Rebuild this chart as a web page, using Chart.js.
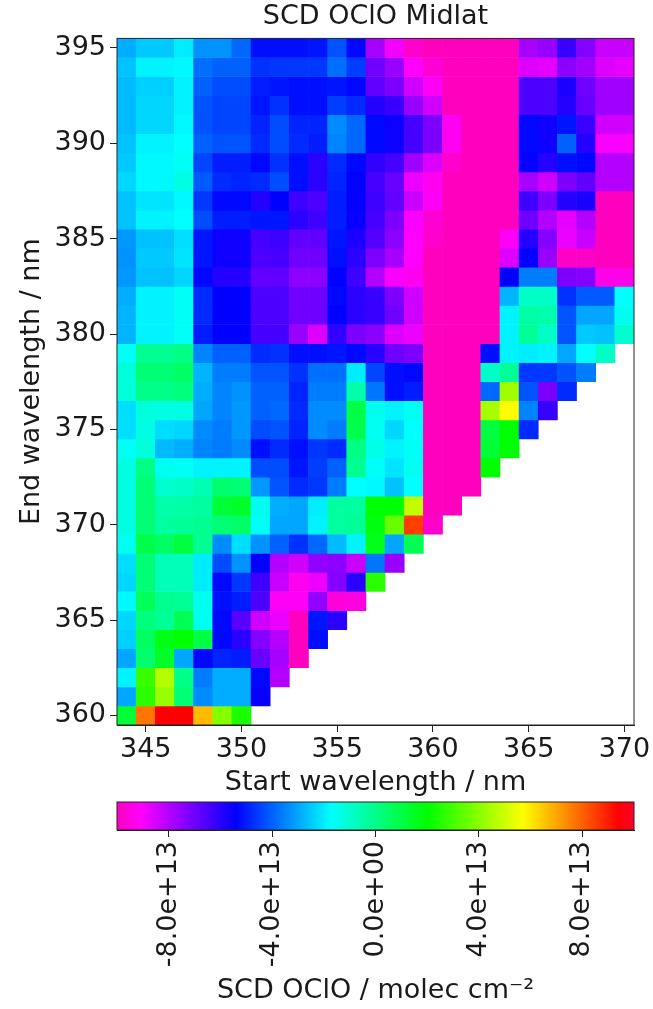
<!DOCTYPE html>
<html>
<head>
<meta charset="utf-8">
<title>SCD OClO Midlat</title>
<script src="https://cdn.jsdelivr.net/npm/chart.js@4/dist/chart.umd.min.js"></script>
<style>
    html, body { margin: 0; padding: 0; background: #fff; }
    canvas { position: absolute; left: 0; }
    #heatmap { top: 0; }
    #colorbar { top: 790px; }
</style>
</head>
<body>
<canvas id="heatmap" width="653" height="810"></canvas>
<canvas id="colorbar" width="653" height="219"></canvas>
<script>
// start wavelength of each column, end wavelength of each row (top row first)
const startWavelengths = [344, 345, 346, 347, 348, 349, 350, 351, 352, 353, 354, 355, 356, 357, 358, 359, 360, 361, 362, 363, 364, 365, 366, 367, 368, 369, 370];
const endWavelengths = [395, 394, 393, 392, 391, 390, 389, 388, 387, 386, 385, 384, 383, 382, 381, 380, 379, 378, 377, 376, 375, 374, 373, 372, 371, 370, 369, 368, 367, 366, 365, 364, 363, 362, 361, 360];
const startTicks = [345, 350, 355, 360, 365, 370];
const endTicks = [360, 365, 370, 375, 380, 385, 390, 395];

// SCD in units of 1e13. Rows get shorter where start > end window.
const scdRows = [
    [-2.9,-2.5,-2.5,-2.0,-3.3,-3.3,-3.9,-5.2,-5.2,-5.2,-5.1,-4.2,-5.3,-7.8,-8.9,-9.8,-10,-10,-10,-10,-10,-7.8,-7.6,-6.2,-7.3,-8.3,-8.3],
    [-2.6,-1.9,-1.9,-1.8,-3.8,-4.0,-4.0,-4.7,-4.6,-4.6,-4.6,-3.8,-4.5,-7.0,-7.6,-9.1,-9.7,-10,-10,-10,-10,-8.6,-8.7,-7.4,-7.7,-8.6,-8.7],
    [-2.7,-2.4,-2.4,-1.9,-4.0,-4.3,-4.3,-5.0,-5.1,-5.2,-5.2,-5.1,-5.3,-6.8,-7.2,-8.4,-9.2,-10,-10,-10,-10,-6.5,-6.5,-5.8,-7.0,-7.7,-7.7],
    [-2.7,-2.3,-2.3,-1.9,-4.2,-4.4,-4.4,-5.1,-4.7,-5.2,-5.2,-4.5,-4.8,-5.9,-6.2,-7.6,-8.4,-10,-10,-10,-10,-6.5,-6.5,-5.9,-6.9,-7.7,-7.7],
    [-2.7,-2.3,-2.3,-1.8,-4.2,-4.4,-4.4,-4.9,-4.3,-4.9,-4.9,-3.4,-3.9,-5.3,-5.6,-6.4,-7.2,-9.3,-10,-10,-10,-5.3,-5.6,-5.1,-6.2,-8.4,-8.4],
    [-2.6,-1.9,-1.9,-1.7,-4.0,-4.2,-4.2,-4.8,-4.3,-4.8,-5.0,-3.5,-3.9,-5.3,-5.6,-6.4,-7.2,-9.3,-10,-10,-10,-5.3,-5.6,-4.0,-5.9,-9.0,-9.0],
    [-2.5,-1.8,-1.8,-1.6,-4.4,-5.0,-5.0,-5.3,-4.7,-5.2,-6.0,-4.8,-5.3,-6.1,-6.4,-7.7,-8.6,-9.8,-10,-10,-10,-5.5,-5.9,-5.2,-5.3,-8.0,-8.0],
    [-2.3,-1.8,-1.8,-1.3,-4.1,-4.8,-4.9,-4.8,-4.3,-5.2,-6.0,-4.9,-5.4,-6.4,-6.9,-8.8,-9.3,-10,-10,-10,-10,-7.8,-8.4,-7.2,-6.8,-8.0,-8.0],
    [-2.6,-2.1,-2.1,-1.8,-4.6,-5.3,-5.3,-5.9,-5.4,-6.3,-6.5,-5.0,-5.4,-6.3,-6.8,-8.3,-9.2,-10,-10,-10,-10,-6.3,-7.2,-5.9,-5.8,-10,-10],
    [-2.6,-1.9,-1.9,-1.7,-4.3,-5.0,-5.0,-5.1,-5.1,-6.0,-6.3,-5.0,-5.5,-6.4,-7.2,-9.0,-9.7,-10,-10,-10,-10,-7.0,-8.0,-8.7,-8.0,-10,-10],
    [-3.2,-2.6,-2.6,-2.2,-5.1,-5.6,-5.6,-6.4,-6.3,-6.8,-6.8,-5.1,-5.8,-6.6,-7.4,-9.1,-9.8,-10,-10,-10,-9.2,-5.9,-7.3,-8.8,-8.3,-10,-10],
    [-3.3,-2.5,-2.5,-2.1,-5.1,-5.6,-5.6,-6.5,-6.4,-7.0,-7.0,-5.2,-6.0,-7.2,-7.8,-9.1,-10,-10,-10,-10,-8.6,-5.4,-7.6,-9.9,-9.9,-10,-10],
    [-3.2,-2.6,-2.6,-2.3,-5.3,-5.9,-5.9,-6.8,-6.8,-7.4,-7.4,-5.4,-6.3,-8.0,-9.0,-9.3,-10,-10,-10,-10,-5.4,-3.6,-3.6,-7.2,-7.3,-9.4,-9.4],
    [-2.9,-1.9,-1.9,-1.6,-4.8,-5.4,-5.4,-6.5,-6.5,-7.0,-7.0,-5.3,-6.0,-6.2,-7.2,-8.4,-10,-10,-10,-10,-2.8,-0.9,-0.9,-4.7,-4.1,-4.1,-1.7],
    [-2.8,-1.9,-1.9,-1.6,-4.8,-5.4,-5.4,-6.5,-6.5,-7.0,-7.0,-5.4,-6.0,-6.2,-7.0,-8.4,-10,-10,-10,-10,-1.9,-0.4,-0.5,-4.2,-3.0,-3.0,-1.5],
    [-2.8,-1.9,-1.9,-1.6,-5.0,-5.4,-5.4,-6.4,-6.4,-7.6,-8.6,-6.1,-7.2,-7.4,-8.6,-8.8,-10,-10,-10,-10,-1.9,-0.2,-0.9,-4.2,-2.5,-2.6,-1.0],
    [-1.6,-0.1,-0.1,0.1,-3.5,-4.0,-4.0,-4.8,-4.7,-5.2,-5.2,-5.1,-5.3,-6.0,-7.0,-7.2,-10,-10,-10,-5.2,-1.9,-2.0,-1.9,-3.0,-1.7,-0.9],
    [-1.2,0.3,0.3,0.5,-2.8,-3.6,-3.6,-4.2,-4.2,-4.7,-3.8,-3.8,-2.0,-4.4,-5.2,-5.3,-10,-10,-10,-0.9,-0.2,-4.6,-4.6,-4.2,-3.6],
    [-1.2,0.0,0.0,0.2,-2.9,-3.5,-3.3,-4.0,-4.0,-4.9,-3.6,-3.6,-0.5,-3.7,-5.2,-5.0,-10,-10,-10,-3.9,4.3,-4.2,-7.2,-4.8],
    [-2.2,-1.2,-1.3,-1.3,-3.0,-3.5,-3.2,-4.0,-3.9,-4.8,-3.4,-3.4,1.0,-1.5,-1.9,-1.5,-10,-10,-10,4.4,5.7,-3.5,-6.2],
    [-2.2,-1.3,-2.2,-2.3,-3.4,-3.6,-3.2,-4.3,-4.2,-4.9,-3.4,-3.6,0.9,-1.5,-2.3,-1.7,-10,-10,-10,1.1,2.0,-4.8],
    [-1.6,-1.2,-2.7,-2.9,-3.5,-3.6,-3.4,-5.2,-4.8,-5.2,-4.6,-4.8,0.1,-1.4,-1.9,-1.6,-10,-10,-10,1.2,2.0],
    [-1.3,0.1,-1.5,-1.6,-1.9,-1.9,-1.9,-4.3,-4.3,-5.1,-4.5,-4.0,-0.1,-1.6,-2.1,-1.5,-10,-10,-10,2.0],
    [-1.3,0.3,-1.0,-0.9,-0.6,0.4,0.3,-3.2,-4.2,-4.8,-4.6,-3.6,-1.7,-1.8,-2.6,-1.7,-10,-10,-10],
    [-1.3,0.3,-0.5,-0.4,-0.3,1.2,1.4,-1.5,-2.9,-3.0,-2.0,-0.3,-0.3,2.0,2.0,4.8,-10,-10],
    [-1.3,0.3,-0.3,-0.2,-0.1,0.3,0.5,-1.6,-3.0,-3.0,-1.9,-0.3,-0.2,1.8,3.5,8.5,-9.8],
    [-1.5,0.9,0.6,1.1,-0.1,-3.4,-2.2,-3.3,-4.0,-4.7,-3.9,-2.7,-1.9,1.6,-3.0,0.8],
    [-2.2,0.3,-0.7,-0.7,-2.0,-4.3,-3.3,-5.4,-8.0,-8.4,-7.5,-7.4,-8.3,-3.7,-7.6],
    [-2.3,0.3,-0.7,-0.7,-2.0,-5.3,-4.6,-6.3,-8.3,-9.3,-8.8,-7.3,-6.0,2.6],
    [-1.8,0.7,-0.1,-0.2,-1.5,-5.2,-5.0,-6.5,-9.2,-9.2,-7.5,-9.6,-9.5],
    [-2.3,0.2,-0.2,0.8,-1.5,-5.3,-6.7,-8.4,-8.8,-10,-5.1,-6.0],
    [-2.4,0.6,1.7,2.0,1.0,-5.3,-6.0,-7.3,-8.0,-10,-5.2],
    [-3.0,0.4,1.4,-3.0,-5.3,-4.9,-5.0,-6.9,-7.8,-10],
    [-1.9,2.8,4.6,0.0,-3.6,-2.9,-2.9,-5.3,-8.0],
    [-3.0,2.6,4.2,0.3,-3.4,-2.9,-2.9,-5.5],
    [1.2,7.7,9.4,9.4,6.7,3.9,2.4]
];

const colorbarTicks = [-8e13, -4e13, 0, 4e13, 8e13];
const colorbarLabels = ['-8.0e+13', '-4.0e+13', '0.0e+00', '4.0e+13', '8.0e+13'];
const scdMin = -1e14;
const scdMax = 1e14;

// reversed gist_rainbow
const cmapPos = [0, 0.046, 0.23, 0.414, 0.6, 0.785, 0.97, 1];
const cmapRgb = [[255,0,191], [255,0,255], [0,0,255], [0,255,255], [0,255,0], [255,255,0], [255,0,0], [255,0,41]];

const fontFamily = '"DejaVu Sans"';
const textColor = '#1a1a1a';
const tickFont = { family: fontFamily, size: 27 };
const titleFont = { family: fontFamily, size: 27, weight: 'normal' };

function scdColor(value) {
    const t = Math.min(1, Math.max(0, (value * 1e13 - scdMin) / (scdMax - scdMin)));
    let i = 0;
    while (i < cmapPos.length - 2 && t > cmapPos[i + 1]) i++;
    const f = (t - cmapPos[i]) / (cmapPos[i + 1] - cmapPos[i]);
    const rgb = cmapRgb[i].map((c, k) => Math.round(c + (cmapRgb[i + 1][k] - c) * f));
    return `rgb(${rgb[0]}, ${rgb[1]}, ${rgb[2]})`;
}

// frame around the plot area, on top of the bars
const framePlugin = {
    id: 'frame',
    afterDatasetsDraw(chart) {
        const { ctx, chartArea } = chart;
        ctx.save();
        ctx.strokeStyle = '#222';
        ctx.lineWidth = 1;
        ctx.strokeRect(chartArea.left, chartArea.top, chartArea.right - chartArea.left, chartArea.bottom - chartArea.top);
        ctx.restore();
    }
};

const heatmapDatasets = scdRows.map((row, r) => ({
    data: row.map((v, c) => ({
        x: startWavelengths[c],
        y: [endWavelengths[r] - 0.5, endWavelengths[r] + 0.5]
    })),
    backgroundColor: row.map(scdColor),
    borderWidth: 0,
    grouped: false,
    barPercentage: 1,
    categoryPercentage: 1
}));

new Chart(document.getElementById('heatmap'), {
    type: 'bar',
    data: { datasets: heatmapDatasets },
    options: {
        responsive: false,
        animation: false,
        layout: { padding: { right: 19 } },
        plugins: {
            legend: { display: false },
            tooltip: { enabled: false },
            title: {
                display: true,
                text: 'SCD OClO Midlat',
                color: textColor,
                font: titleFont,
                fullSize: false,
                padding: { top: 1, bottom: 5 }
            }
        },
        scales: {
            x: {
                type: 'linear',
                offset: false,
                min: 343.5,
                max: 370.5,
                afterBuildTicks: scale => {
                    scale.ticks = startTicks.map(value => ({ value }));
                },
                afterFit: scale => { scale.height = 85; },
                ticks: { color: textColor, font: tickFont, padding: 2, maxRotation: 0, autoSkip: false },
                grid: { offset: false, drawOnChartArea: false, tickLength: 7, color: '#222' },
                border: { color: '#222' },
                title: {
                    display: true,
                    text: 'Start wavelength / nm',
                    color: textColor,
                    font: titleFont,
                    padding: { top: 0, bottom: 11 }
                }
            },
            y: {
                type: 'linear',
                min: 359.5,
                max: 395.5,
                afterBuildTicks: scale => {
                    scale.ticks = endTicks.map(value => ({ value }));
                },
                afterFit: scale => { scale.width = 117; },
                ticks: { color: textColor, font: tickFont, padding: 4, autoSkip: false },
                grid: { drawOnChartArea: false, tickLength: 7, color: '#222' },
                border: { color: '#222' },
                title: {
                    display: true,
                    text: 'End wavelength / nm',
                    color: textColor,
                    font: titleFont,
                    padding: { top: 16, bottom: 0 }
                }
            }
        }
    },
    plugins: [framePlugin]
});

// colorbar: one floating bar over the whole range, painted with the colormap
function colorbarFill(context) {
    const area = context.chart.chartArea;
    if (!area) return '#fff';
    const gradient = context.chart.ctx.createLinearGradient(area.left, 0, area.right, 0);
    cmapPos.forEach((p, i) => {
        gradient.addColorStop(p, `rgb(${cmapRgb[i].join(',')})`);
    });
    return gradient;
}

new Chart(document.getElementById('colorbar'), {
    type: 'bar',
    data: {
        labels: ['SCD'],
        datasets: [{
            data: [[scdMin, scdMax]],
            backgroundColor: colorbarFill,
            borderWidth: 0,
            barPercentage: 1,
            categoryPercentage: 1
        }]
    },
    options: {
        indexAxis: 'y',
        responsive: false,
        animation: false,
        layout: { padding: { left: 117, right: 19, top: 12 } },
        plugins: {
            legend: { display: false },
            tooltip: { enabled: false }
        },
        scales: {
            y: { display: false },
            x: {
                type: 'linear',
                min: scdMin,
                max: scdMax,
                afterBuildTicks: scale => {
                    scale.ticks = colorbarTicks.map(value => ({ value }));
                },
                afterFit: scale => { scale.height = 179; },
                ticks: {
                    color: textColor,
                    font: tickFont,
                    padding: 4,
                    minRotation: 90,
                    maxRotation: 90,
                    autoSkip: false,
                    callback: value => colorbarLabels[colorbarTicks.indexOf(value)]
                },
                grid: { drawOnChartArea: false, tickLength: 7, color: '#222' },
                border: { color: '#222' },
                title: {
                    display: true,
                    text: 'SCD OClO / molec cm⁻²',
                    color: textColor,
                    font: titleFont,
                    padding: { top: 0, bottom: 2 }
                }
            }
        }
    },
    plugins: [framePlugin]
});
</script>
</body>
</html>
